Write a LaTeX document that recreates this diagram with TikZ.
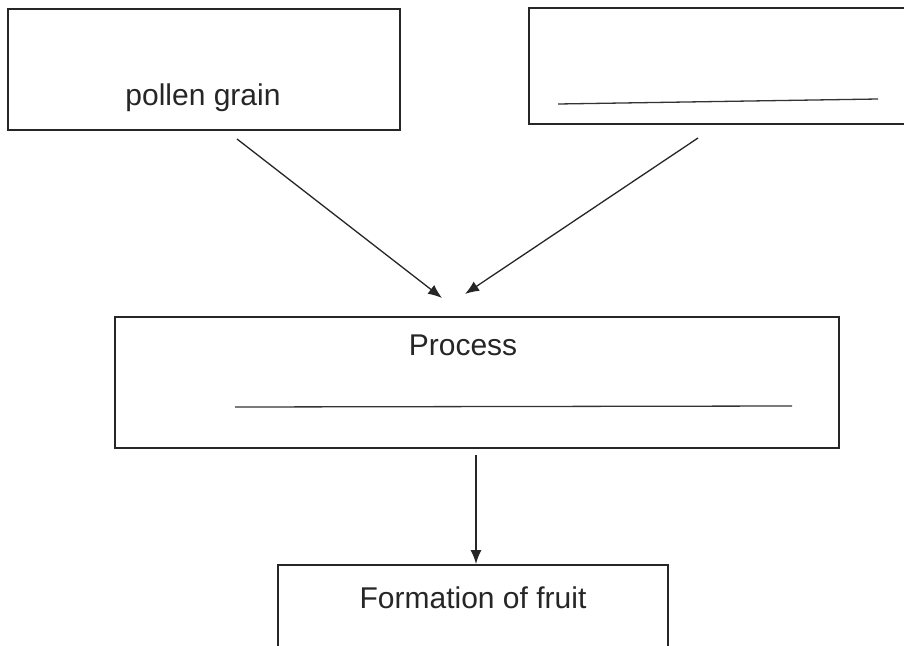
\documentclass[tikz,border=0pt]{standalone}
\usepackage{fontspec}
\setmainfont{Liberation Sans}
\usetikzlibrary{arrows.meta}
\tikzset{
  boxshape/.style={draw=black!85, line width=1.8pt, rectangle, anchor=north west, inner sep=0pt},
  label/.style={inner sep=0pt, font=\fontsize{30}{35}\selectfont, text=black!85},
  blankline/.style={draw=black!80, line width=1.3pt},
  conn/.style={draw=black!85, line width=1.3pt, -{Latex[length=14pt,width=11pt]}}
}
\begin{document}
\begin{tikzpicture}[x=1pt,y=-1pt]
\useasboundingbox (0,0) rectangle (904,645);
\fill[white] (0,0) rectangle (904,645);
\clip (0,0) rectangle (904,645);
% boxes
\node[boxshape, minimum width=392pt, minimum height=121pt] (pollen) at (7,8) {};
\node[boxshape, minimum width=390pt, minimum height=116pt] (other) at (528,7) {};
\node[boxshape, minimum width=724pt, minimum height=131pt] (process) at (114,316) {};
\node[boxshape, minimum width=390pt, minimum height=110pt] (fruit) at (277,564) {};
% texts
\node[label] (tpollen) at (203,98) {pollen grain};
\node[label] (tprocess) at (463,345) {Process};
\node[label] (tfruit) at (473,598) {Formation of fruit};
% blank answer lines
\coordinate (l1a) at (558,104);
\coordinate (l1b) at (878,99);
\draw[blankline] (l1a) -- (l1b);
\coordinate (l2a) at (235,407);
\coordinate (l2b) at (792,406);
\draw[blankline] (l2a) -- (l2b);
% connectors
\coordinate (a1s) at (237,139);
\coordinate (a1e) at (442,298);
\coordinate (a2s) at (698,138);
\coordinate (a2e) at (465,294);
\coordinate (a3s) at (476,455);
\coordinate (a3e) at (476,564);
\draw[conn] (a1s) -- (a1e);
\draw[conn] (a2s) -- (a2e);
\draw[conn] (a3s) -- (a3e);
\end{tikzpicture}
\end{document}
